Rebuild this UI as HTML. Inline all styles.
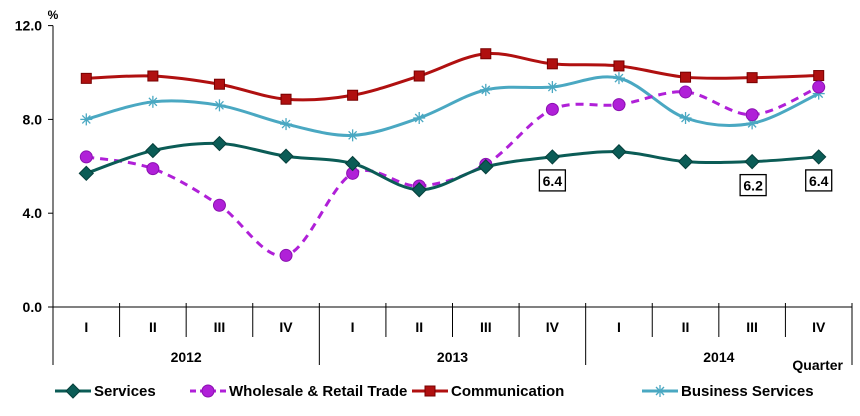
<!DOCTYPE html>
<html><head><meta charset="utf-8"><style>
body{margin:0;background:#fff;}
svg{display:block;font-family:"Liberation Sans",Arial,sans-serif;font-weight:bold;}
</style></head><body>
<svg id="chart" width="860" height="416"></svg>
<script>
const categories=["I","II","III","IV","I","II","III","IV","I","II","III","IV"];
const years=["2012","2013","2014"];
const yTicks=[0,4,8,12];
const yTickLabels=["0.0","4.0","8.0","12.0"];
const services=[5.7,6.67,6.97,6.43,6.12,5.0,5.98,6.4,6.62,6.2,6.2,6.4];
const wholesale=[6.4,5.9,4.34,2.2,5.7,5.16,6.08,8.43,8.63,9.17,8.2,9.38];
const communication=[9.75,9.85,9.5,8.86,9.03,9.85,10.8,10.37,10.28,9.8,9.78,9.87];
const business=[8.0,8.75,8.6,7.8,7.32,8.06,9.26,9.38,9.76,8.06,7.83,9.1];
const callouts=[[7,"6.4",0],[10,"6.2",1],[11,"6.4",0]];
const NS="http://www.w3.org/2000/svg";
const svg=document.getElementById('chart');
const X0=53,X1=852,Y0=307,PER=23.45;
const bw=(X1-X0)/categories.length;
const xs=i=>X0+bw*(i+0.5);
const ys=v=>Y0-v*PER;
function mk(t,a,p){const e=document.createElementNS(NS,t);for(const k in a)e.setAttribute(k,a[k]);(p||svg).appendChild(e);return e;}
// y axis
let ax=mk('line',{x1:X0,y1:ys(12),x2:X0,y2:Y0,stroke:'#000'});


yTicks.forEach((v,i)=>{
 mk('line',{x1:X0-5,y1:ys(v),x2:X0,y2:ys(v),stroke:'#000'});
 const t=mk('text',{x:X0-11,y:ys(v)+5,'text-anchor':'end','font-size':14});
 t.textContent=yTickLabels[i];
 
 
});
let pct=mk('text',{x:53,y:19,'text-anchor':'middle','font-size':12});pct.textContent='%';


// x axis
let xa=mk('line',{x1:X0-5,y1:Y0,x2:X1,y2:Y0,stroke:'#000'});


for(let i=0;i<=categories.length;i++){
 const x=X0+bw*i;const big=i%4===0;
 mk('line',{x1:x,y1:Y0-4,x2:x,y2:big?365:337,stroke:'#000'});
}
categories.forEach((c,i)=>{
 const t=mk('text',{x:xs(i),y:332,'text-anchor':'middle','font-size':14});t.textContent=c;
 
 
});
years.forEach((yv,i)=>{
 const t=mk('text',{x:X0+bw*(4*i+2),y:362,'text-anchor':'middle','font-size':14});t.textContent=yv;
 
 
});
let q=mk('text',{x:843,y:370,'text-anchor':'end','font-size':14});q.textContent='Quarter';


function smooth(vals){
 const p=vals.map((v,i)=>[xs(i),ys(v)]);let d='M'+p[0][0]+','+p[0][1];
 for(let i=0;i<p.length-1;i++){
  const p0=p[i-1]||p[i],p1=p[i],p2=p[i+1],p3=p[i+2]||p2,k=6;
  d+=` C${p1[0]+(p2[0]-p0[0])/k},${p1[1]+(p2[1]-p0[1])/k} ${p2[0]-(p3[0]-p1[0])/k},${p2[1]-(p3[1]-p1[1])/k} ${p2[0]},${p2[1]}`;
 }return d;}
function marker(type,x,y,g){
 if(type==='diamond')mk('polygon',{points:`${x},${y-7} ${x+7},${y} ${x},${y+7} ${x-7},${y}`,fill:'#0b5c56',stroke:'#063f3b'},g);
 else if(type==='circle')mk('circle',{cx:x,cy:y,r:6,fill:'#b020d8',stroke:'#8a10b0'},g);
 else if(type==='square')mk('rect',{x:x-5,y:y-5,width:10,height:10,fill:'#b01010',stroke:'#700'},g);
 else {const s=6;['M'+(x-s)+','+y+'h'+2*s,'M'+x+','+(y-s)+'v'+2*s,'M'+(x-4)+','+(y-4)+'l8,8','M'+(x+4)+','+(y-4)+'l-8,8'].forEach(d=>mk('path',{d,stroke:'#4aa8c2','stroke-width':1.3},g));}
}
const series=[
 ['communication',communication,'#b01010','square',''],
 ['business-services',business,'#4aa8c2','star',''],
 ['wholesale-retail',wholesale,'#b020d8','circle','8,6'],
 ['services',services,'#0b5c56','diamond','']];
series.forEach(([n,vals,col,m,dash])=>{
 const g=mk('g',{});
 
 
 mk('path',{d:smooth(vals),fill:'none',stroke:col,'stroke-width':3,'stroke-dasharray':dash},g);
 vals.forEach((v,i)=>marker(m,xs(i),ys(v),g));
});
callouts.forEach(([i,txt,dx])=>{
 const x=xs(i)+dx,y=ys(services[i])+24;
 const r=mk('rect',{x:x-13,y:y-11,width:26,height:21,fill:'#fff',stroke:'#000','stroke-width':1.3});
 
 
 const t=mk('text',{x:x,y:y+5,'text-anchor':'middle','font-size':14});t.textContent=txt;
});
// legend
const leg=[['Services','#0b5c56','diamond','',55],['Wholesale & Retail Trade','#b020d8','circle','6,4',190],['Communication','#b01010','square','',412],['Business Services','#4aa8c2','star','',642]];
leg.forEach(([lab,col,m,dash,x])=>{
 const g=mk('g',{});
 
 
 mk('line',{x1:x,y1:391,x2:x+36,y2:391,stroke:col,'stroke-width':3,'stroke-dasharray':dash},g);
 marker(m,x+18,391,g);
 const t=mk('text',{x:x+39,y:396,'font-size':15},g);t.textContent=lab;
});
</script>
</body></html>
